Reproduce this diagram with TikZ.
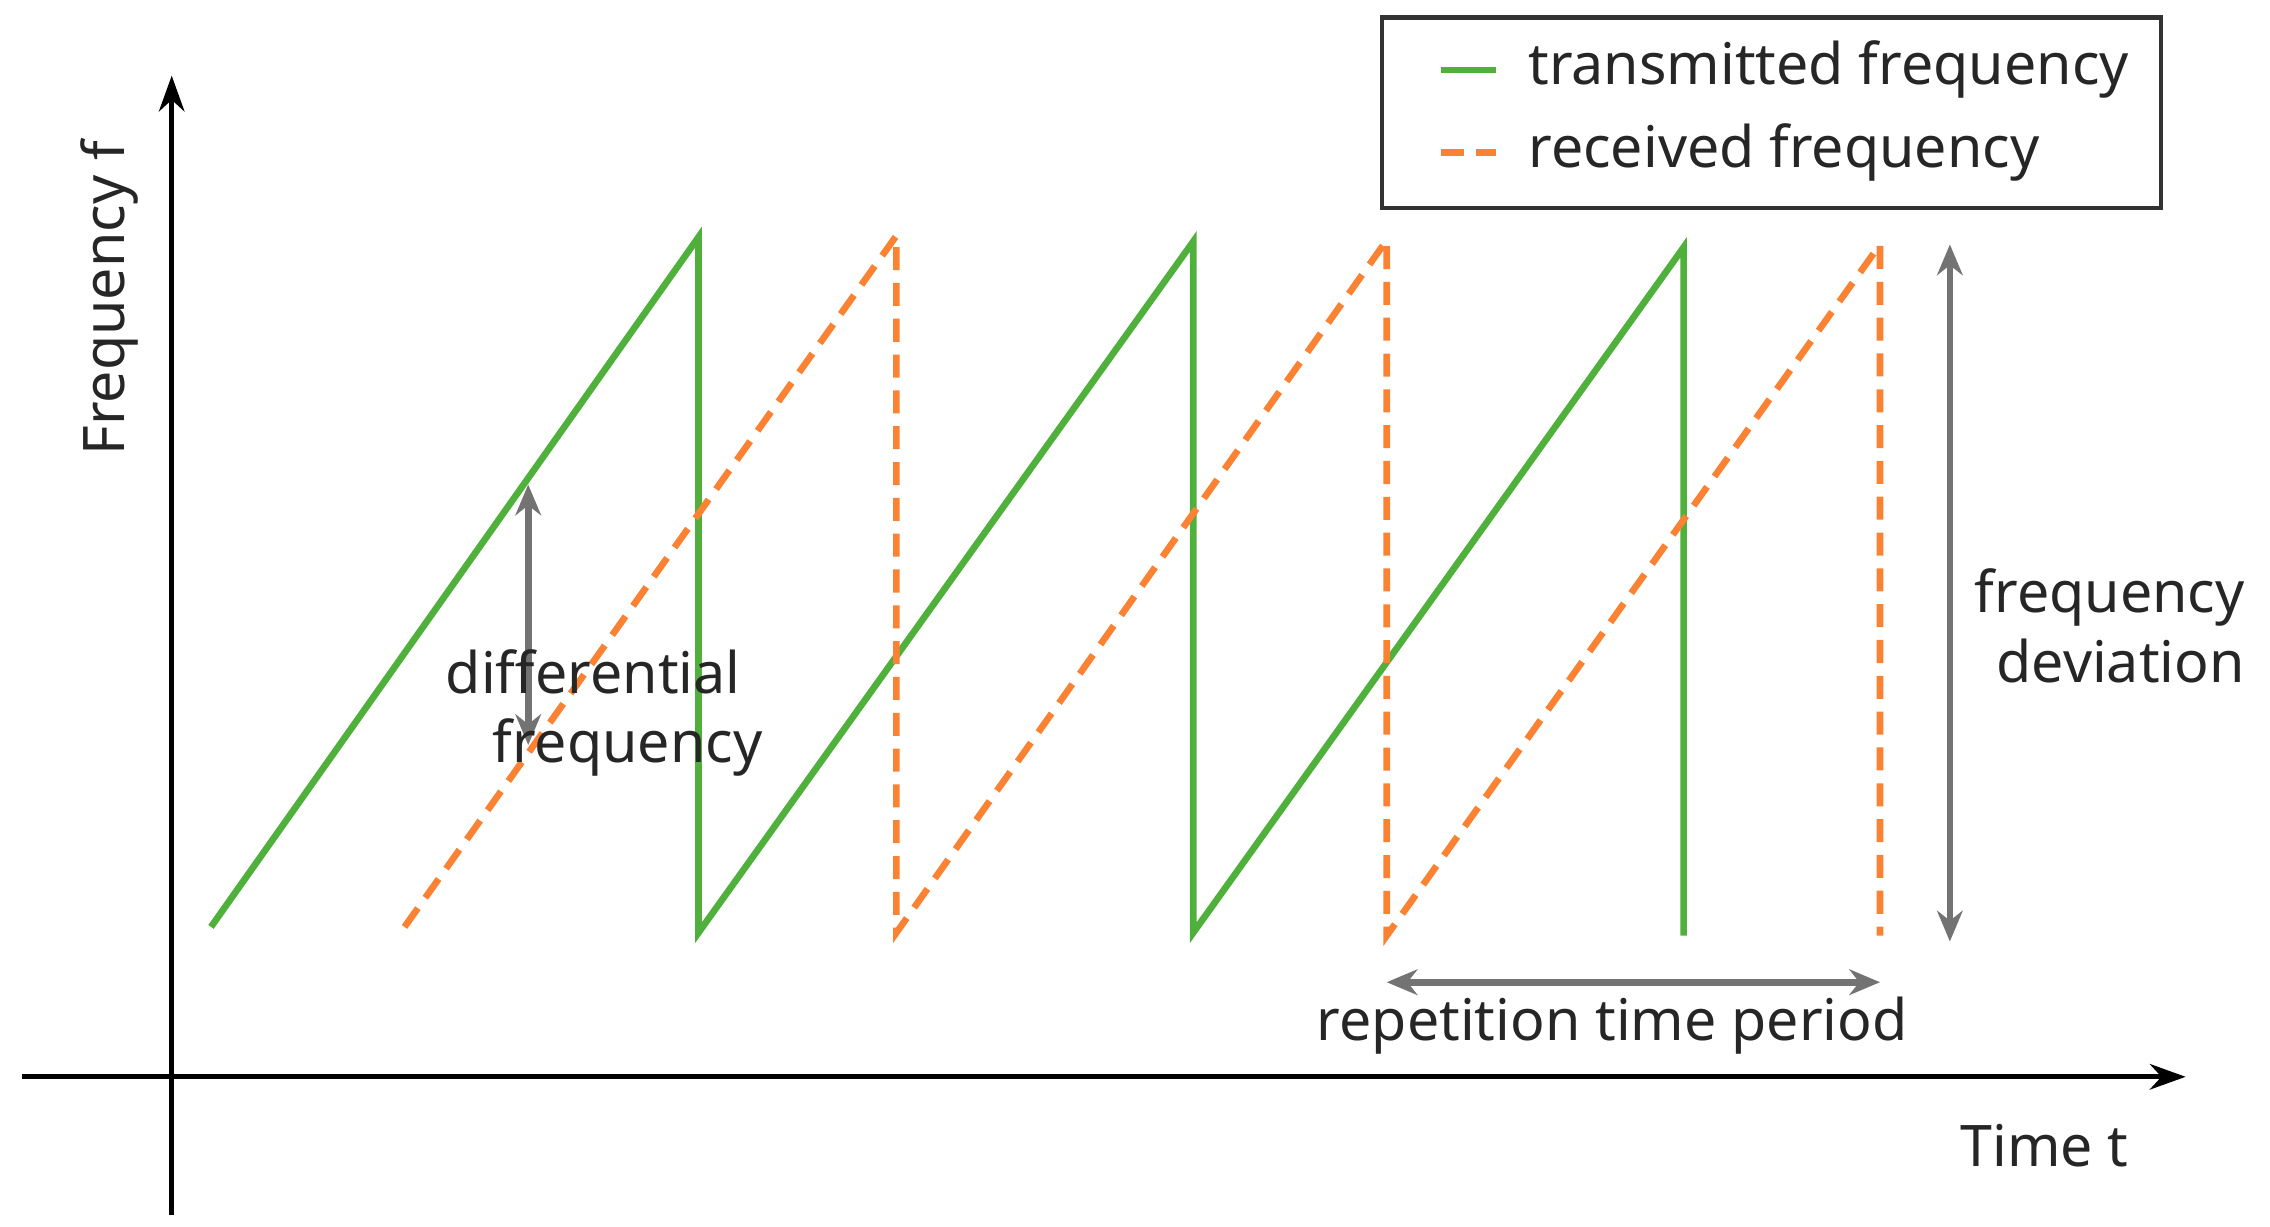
\documentclass[tikz,border=0pt]{standalone}
\usepackage{fontspec}
\setmainfont{Noto Sans}
\usetikzlibrary{arrows.meta}
\begin{document}
\begin{tikzpicture}[x=0.01cm,y=-0.01cm,
  ax/.style={line width=0.9pt,-{Stealth[length=7pt,width=5pt]}},
  tx/.style={draw={rgb,255:red,80;green,176;blue,60},line width=1.3pt},
  rx/.style={draw={rgb,255:red,250;green,130;blue,50},line width=1.3pt,dash pattern=on 4.5pt off 2.5pt},
  gr/.style={draw=gray!90!black,line width=1.3pt,{Stealth[length=6pt,width=5pt]}-{Stealth[length=6pt,width=5pt]}},
  lb/.style={font=\fontsize{11.2}{13.6}\selectfont,text=black!85}]
\useasboundingbox (0,0) rectangle (1560,843);
% axes
\coordinate (o1) at (118,835); \coordinate (o2) at (118,52);
\coordinate (h1) at (15,740); \coordinate (h2) at (1502,740);
\draw[ax] (o1) -- (o2);
\draw[ax] (h1) -- (h2);
% transmitted
\coordinate (t0) at (145,637);
\coordinate (t1) at (480,163); \coordinate (t2) at (480,641);
\coordinate (t3) at (820,166); \coordinate (t4) at (820,641);
\coordinate (t5) at (1157,170); \coordinate (t6) at (1157,643);
\draw[tx] (t0)--(t1)--(t2)--(t3)--(t4)--(t5)--(t6);
% received
\coordinate (r0) at (278,637);
\coordinate (r1) at (616,162); \coordinate (r2) at (616,641);
\coordinate (r3) at (953,165); \coordinate (r4) at (953,643);
\coordinate (r5) at (1292,168); \coordinate (r6) at (1292,643);
\draw[rx] (r0)--(r1)--(r2)--(r3)--(r4)--(r5)--(r6);
% grey arrows
\coordinate (d1) at (363,333); \coordinate (d2) at (363,512);
\draw[gr] (d1)--(d2);
\coordinate (f1) at (1340,168); \coordinate (f2) at (1340,647);
\draw[gr] (f1)--(f2);
\coordinate (p1) at (953,675); \coordinate (p2) at (1292,675);
\draw[gr] (p1)--(p2);
% labels
\node[lb,rotate=90] (fl) at (75,205) {Frequency f};
\node[lb,align=left,anchor=west] (dl) at (294,490) {differential\\\hspace*{0.32cm}frequency};
\node[lb,align=right,anchor=east] (fd) at (1555,430) {frequency\\deviation};
\node[lb] (rl) at (1108,705) {repetition time period};
\node[lb] (tl) at (1405,787) {Time t};
% legend
\node[draw=black!80,line width=0.9pt,minimum width=5.35cm,minimum height=1.31cm] (leg) at (1217.5,77.5) {};
\coordinate (la) at (990,48); \coordinate (lb) at (1028,48);
\draw[tx] (la)--(lb);
\coordinate (lc) at (990,105); \coordinate (ld) at (1028,105);
\draw[rx] (lc)--(ld);
\node[lb,anchor=west] (l1) at (1038,48) {transmitted frequency};
\node[lb,anchor=west] (l2) at (1038,105) {received frequency};
\end{tikzpicture}
\end{document}
